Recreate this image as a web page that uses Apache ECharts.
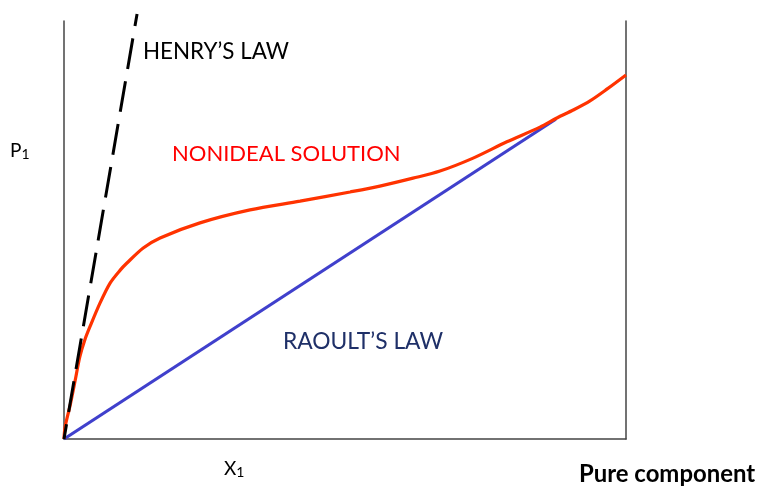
<!DOCTYPE html>
<html>
<head>
<meta charset="utf-8">
<script src="https://cdn.jsdelivr.net/npm/echarts@6/dist/echarts.min.js"></script>
<style>
html,body{margin:0;padding:0;background:#fff;}
#chart{width:759px;height:489px;}
</style>
</head>
<body>
<div id="chart"></div>
<script>
// Nonideal solution curve (x1 fraction, P1 relative)
var nonidealX = [0, 0.002, 0.011, 0.020, 0.028, 0.037, 0.046, 0.064, 0.082, 0.100, 0.112, 0.141, 0.171, 0.242, 0.331, 0.420, 0.509, 0.562, 0.621, 0.669, 0.728, 0.788, 0.847, 0.877, 0.906, 0.936, 0.966, 1.0];
var nonidealY = [0, 0.029, 0.081, 0.141, 0.196, 0.237, 0.268, 0.325, 0.373, 0.404, 0.421, 0.457, 0.481, 0.517, 0.548, 0.569, 0.591, 0.605, 0.624, 0.641, 0.672, 0.711, 0.746, 0.768, 0.787, 0.809, 0.837, 0.871];
// Raoult's law line
var raoultX = [0, 0.875];
var raoultY = [0, 0.765];
// Henry's law line
var henryX = [0, 0.13];
var henryY = [0, 1.017];

var labelHenry = "HENRY\u2019S LAW";
var labelNonideal = "NONIDEAL SOLUTION";
var labelRaoult = "RAOULT\u2019S LAW";
var labelPure = "Pure component";

function zip(xs, ys){ return xs.map(function(x,i){ return [x, ys[i]]; }); }

var FONT = "Lato, 'Open Sans', sans-serif";
var ctx = document.createElement('canvas').getContext('2d');
function fit(text, weight, target){
  ctx.font = weight + ' 100px ' + FONT;
  return 100 * target / ctx.measureText(text).width;
}

var chart = echarts.init(document.getElementById('chart'), null, {renderer:'canvas'});
var axisStyle = {show:true, lineStyle:{color:'#444', width:1.5}};
var option = {
  animation:false,
  backgroundColor:'#fff',
  grid:{left:64, right:133, top:21, bottom:50},
  xAxis:{type:'value', min:0, max:1, axisLine:axisStyle, axisTick:{show:false}, axisLabel:{show:false}, splitLine:{show:false}},
  yAxis:[
    {type:'value', min:0, max:1, position:'left', axisLine:axisStyle, axisTick:{show:false}, axisLabel:{show:false}, splitLine:{show:false}},
    {type:'value', min:0, max:1, position:'right', axisLine:axisStyle, axisTick:{show:false}, axisLabel:{show:false}, splitLine:{show:false}}
  ],
  series:[
    {type:'line', data:zip(raoultX, raoultY), showSymbol:false, symbol:'none', lineStyle:{color:'#4040cc', width:3.2}},
    {type:'line', data:zip(nonidealX, nonidealY), smooth:0.3, showSymbol:false, symbol:'none', lineStyle:{color:'#ff3300', width:3.2}},
    {type:'line', data:zip(henryX, henryY), clip:false, showSymbol:false, symbol:'none', lineStyle:{color:'#000', width:3, type:[31,12.5], dashOffset:16}}
  ],
  graphic:[
    {type:'text', left:143, top:41, style:{text:labelHenry, font:'400 '+fit(labelHenry,400,146).toFixed(1)+'px '+FONT, fill:'#000'}},
    {type:'text', left:172, top:143, style:{text:labelNonideal, font:'400 '+fit(labelNonideal,400,229).toFixed(1)+'px '+FONT, fill:'#ff0000'}},
    {type:'text', left:283, top:330, style:{text:labelRaoult, font:'400 '+fit(labelRaoult,400,160).toFixed(1)+'px '+FONT, fill:'#1f3068'}},
    {type:'text', left:10, top:141, style:{text:'{a|P}{b|1}', rich:{a:{font:'400 19px '+FONT, fill:'#000'}, b:{font:'400 14px '+FONT, fill:'#000', padding:[7,0,0,0]}}}},
    {type:'text', left:224, top:459, style:{text:'{a|X}{b|1}', rich:{a:{font:'400 19px '+FONT, fill:'#000'}, b:{font:'400 14px '+FONT, fill:'#000', padding:[7,0,0,0]}}}},
    {type:'text', left:579, top:462, style:{text:labelPure, font:'700 '+fit(labelPure,700,176).toFixed(1)+'px '+FONT, fill:'#000'}}
  ]
};
chart.setOption(option);
</script>
</body>
</html>
